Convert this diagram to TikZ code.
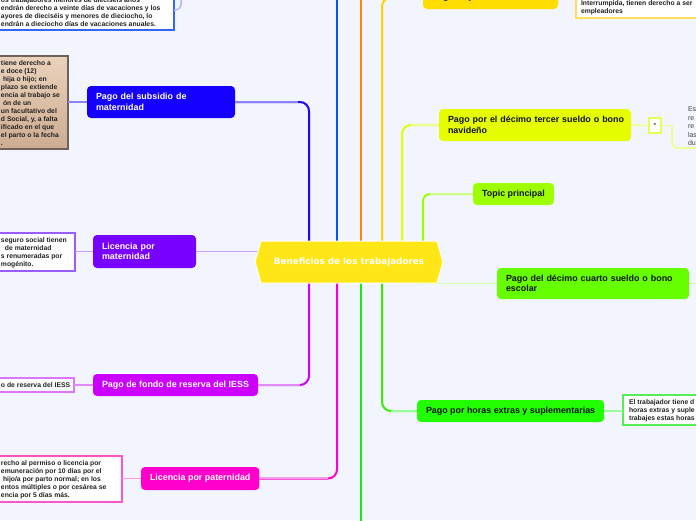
\documentclass[tikz,border=0pt]{standalone}
\usepackage{fontspec}
\setmainfont{Liberation Sans}
\newfontfamily\cenfont{DejaVu Sans}
\usetikzlibrary{calc}
\definecolor{bg}{HTML}{F2F5FD}
\definecolor{cenY}{HTML}{FFE617}
\definecolor{cBV}{HTML}{2200FF}
\definecolor{cBVl}{HTML}{8C80FF}
\definecolor{nBV}{HTML}{1500FF}
\definecolor{cBlue}{HTML}{0055FF}
\definecolor{cOr}{HTML}{FF8800}
\definecolor{cYe}{HTML}{FFD400}
\definecolor{nYe}{HTML}{FFDD00}
\definecolor{cYel}{HTML}{FFE680}
\definecolor{cLY}{HTML}{E0FF00}
\definecolor{nLY}{HTML}{E5FF00}
\definecolor{cLYl}{HTML}{EEFF88}
\definecolor{cGY}{HTML}{99FF00}
\definecolor{nGY}{HTML}{9DFF00}
\definecolor{cGYl}{HTML}{CCFF88}
\definecolor{nG1}{HTML}{66FF00}
\definecolor{cG1l}{HTML}{CCFFAA}
\definecolor{nG2}{HTML}{22FF00}
\definecolor{cG2}{HTML}{33EE00}
\definecolor{cG2l}{HTML}{99FF99}
\definecolor{cGr}{HTML}{11EE11}
\definecolor{nVi}{HTML}{7700FF}
\definecolor{cVil}{HTML}{C9A0FF}
\definecolor{nMa}{HTML}{CC00FF}
\definecolor{cMal}{HTML}{E08CFF}
\definecolor{nPi}{HTML}{FF00CC}
\definecolor{cPil}{HTML}{FF99E6}
\definecolor{cBll}{HTML}{AAB8FF}
\definecolor{bTL}{HTML}{3366FF}
\definecolor{bSB}{HTML}{6E6259}
\definecolor{sbTop}{HTML}{EBD2BC}
\definecolor{sbBot}{HTML}{CDAC91}
\definecolor{bVi}{HTML}{9A5CFF}
\definecolor{bMa}{HTML}{DD77FF}
\definecolor{bPi}{HTML}{FF55CC}
\definecolor{bG2}{HTML}{55EE55}
\definecolor{bYe}{HTML}{FFDD55}
\definecolor{bLY}{HTML}{E5FF55}
\definecolor{boxtxt}{HTML}{222222}
\definecolor{graytxt}{HTML}{444444}
\definecolor{darktxt}{HTML}{111111}
\tikzset{
  conn/.style={line width=2pt},
  lconn/.style={line width=1.5pt},
  topic/.style={rounded corners=4pt, anchor=north west, inner xsep=9pt, inner ysep=1pt,
    font=\fontsize{8.9}{10.5}\selectfont\bfseries},
  topicL/.style={topic, align=left},
  tbox/.style={anchor=north west, draw, line width=1.5pt},
  btext/.style={align=left, font=\fontsize{6.8}{8}\selectfont\bfseries, text=boxtxt},
}
\begin{document}
\begin{tikzpicture}[x=1pt,y=-1pt, every node/.style={inner sep=0pt, outer sep=0pt}]
\useasboundingbox (0,0) rectangle (696,520);
\clip (0,0) rectangle (696,520);
\fill[bg] (0,0) rectangle (696,520);

% helper coordinates
\coordinate (x309) at (309,0);
\coordinate (x337) at (337,0);
\coordinate (x361) at (361,0);
\coordinate (x382) at (382,0);
\coordinate (x402) at (402,0);
\coordinate (x423) at (423,0);
\coordinate (x417) at (417,0);
\coordinate (x258) at (258,0);
\coordinate (x672) at (672,0);
\coordinate (topB) at (337,-6);
\coordinate (topO) at (361,-6);
\coordinate (botG) at (361,526);
\coordinate (dcEnd) at (700,283.5);
\coordinate (rtEnd) at (700,148);
\coordinate (tlTop) at (181,-12);

% central node (shape drawn later)
\node[minimum width=188pt, minimum height=42pt] (cen) at (349,262) {};

% left text boxes
\node[tbox, draw=bTL, fill=white, minimum width=184pt, minimum height=40pt] (tlbox) at (-10,-10) {};
\node[btext, anchor=north west] (tltxt) at (1,-2.5) {os trabajadores menores de diecis\'eis a\~nos\\endr\'an derecho a veinte d\'ias de vacaciones y los\\ayores de diecis\'eis y menores de dieciocho, lo\\endr\'an a dieciocho d\'ias de vacaciones anuales.};

\node[tbox, draw=bSB, top color=sbTop, bottom color=sbBot, minimum width=78pt, minimum height=93pt] (subbox) at (-10,56) {};
\node[btext, anchor=north west] (subtxt) at (1,61) {tiene derecho a\\e doce (12)\\\hspace*{2pt}hija o hijo; en\\plazo se extiende\\encia al trabajo se\\\hspace*{2pt}\'on de un\\un facultativo del\\d Social, y, a falta\\ificado en el que\\el parto o la fecha\\.};

\node[tbox, draw=bVi, fill=white, minimum width=85pt, minimum height=38pt] (lmatbox) at (-10,233) {};
\node[btext, anchor=north west] (lmattxt) at (1,237.5) {seguro social tienen\\\hspace*{4pt}de maternidad\\s renumeradas por\\mog\'enito.};

\node[tbox, draw=bMa, fill=white, minimum width=84pt, minimum height=14pt] (fonbox) at (-10,378) {};
\node[btext, anchor=west] (fontxt) at (1,385.5) {o de reserva del IESS};

\node[tbox, draw=bPi, fill=white, minimum width=132pt, minimum height=46pt] (patbox) at (-10,456) {};
\node[btext, anchor=north west] (pattxt) at (1,460.5) {recho al permiso o licencia por\\emuneraci\'on por 10 d\'ias por el\\\hspace*{2pt}hijo/a por parto normal; en los\\entos m\'ultiples o por ces\'area se\\encia por 5 d\'ias m\'as.};

% right text boxes
\node[tbox, draw=bYe, fill=white, minimum width=130pt, minimum height=38pt] (jubbox) at (576,-20) {};
\node[btext, anchor=north west] (jubtxt) at (581,1) {Interrumpida, tienen derecho a ser\\empleadores};

\node[tbox, draw=bG2, fill=white, minimum width=80pt, minimum height=30pt] (horbox) at (623,395) {};
\node[btext, anchor=north west] (hortxt) at (629,400) {El trabajador tiene d\\horas extras y suple\\trabajes estas horas};

\node[draw=bLY, line width=1.5pt, fill=white, minimum width=12pt, minimum height=15pt,
  font=\bfseries\fontsize{8}{9}\selectfont] (dash) at (655,125.5) {-};
\node[anchor=north west, align=left, font=\fontsize{7}{8.5}\selectfont, text=graytxt] (rtxt) at (688,107) {Es\\re\\re\\las\\du};

% main topics
\node[topicL, fill=nBV, text=white, text width=130pt, minimum height=32pt] (sub) at (87,86) {Pago del subsidio de\\maternidad};
\node[topicL, fill=nVi, text=white, text width=85pt, minimum height=33pt] (lmat) at (93,235) {Licencia por\\maternidad};
\node[topic, fill=nMa, text=white, minimum width=165pt, minimum height=22pt] (fon) at (93,374) {Pago de fondo de reserva del IESS};
\node[topic, fill=nPi, text=white, minimum width=118pt, minimum height=23pt] (pat) at (141,467) {Licencia por paternidad};
\node[topic, fill=nYe, text=darktxt, minimum width=135pt, minimum height=23pt] (jub) at (423,-14) {Pago de jubilaci\'on Patronal};
\node[topicL, fill=nLY, text=darktxt, text width=174pt, minimum height=32pt] (dt) at (439,109) {\mbox{Pago por el d\'ecimo tercer sueldo o bono}\\navide\~no};
\node[topic, fill=nGY, text=darktxt, minimum width=81pt, minimum height=22pt] (topic) at (473,183) {Topic principal};
\node[topicL, fill=nG1, text=darktxt, text width=174pt, minimum height=31pt] (dc) at (497,268) {\mbox{Pago del d\'ecimo cuarto sueldo o bono}\\escolar};
\node[topic, fill=nG2, text=darktxt, minimum width=187pt, minimum height=22pt] (hor) at (417,400) {Pago por horas extras y suplementarias};

% connectors from the central topic
\draw[conn, cBV, rounded corners=9pt] (cen.north -| x309) |- (sub.east);
\draw[lconn, cBVl] (sub.east) -- ++(63,0);
\draw[conn, cBlue] (cen.north -| x337) -- (topB);
\draw[conn, cOr] (cen.north -| x361) -- (topO);
\draw[conn, cYe, rounded corners=9pt] (cen.north -| x382) |- (jub.west);
\draw[conn, cLY, rounded corners=9pt] (cen.north -| x402) |- (dt.west);
\draw[lconn, cLYl] (dt.west) -- ++(-28,0);
\draw[conn, cGY, rounded corners=7pt] (cen.north -| x423) |- (topic.west);
\draw[lconn, cGYl] (topic.west) -- ++(-43,0);
\draw[conn, nMa, rounded corners=9pt] (cen.south -| x309) |- (fon.east);
\draw[lconn, cMal] (fon.east) -- ++(42,0);
\draw[conn, nPi, rounded corners=9pt] (cen.south -| x337) |- (pat.east);
\draw[lconn, cPil] (pat.east) -- ++(69,0);
\draw[conn, cGr] (cen.south -| x361) -- (botG);
\draw[conn, cG2, rounded corners=9pt] (cen.south -| x382) |- (hor.west);
\draw[lconn, cG2l] (hor.west) -- ++(-26,0);
\draw[lconn, cG1l] (dc.west -| x417) -- (dc.west);
\draw[lconn, cVil] (lmat.east) -- (lmat.east -| x258);

% connectors to details
\draw[lconn, cBll, rounded corners=6pt] (tlTop) |- (tlbox.east);
\draw[lconn, cBVl] (sub.west) -- (sub.west -| subbox.east);
\draw[lconn, cVil] (lmat.west) -- (lmat.west -| lmatbox.east);
\draw[lconn, cMal] (fon.west) -- (fon.west -| fonbox.east);
\draw[lconn, cPil] (pat.west) -- (pat.west -| patbox.east);
\draw[lconn, cG2l] (hor.east) -- (hor.east -| horbox.west);
\draw[lconn, cYel] (jub.east) -- (jub.east -| jubbox.west);
\draw[lconn, cLYl] (dt.east) -- (dash.west);
\draw[lconn, cLYl] (dash.east) -- (dash.east -| x672) -- ++(0,12);
\draw[lconn, cLYl, rounded corners=5pt] (dash.east -| x672) |- (rtEnd);
\draw[lconn, cG1l] (dc.east) -- (dcEnd);

% central shape and label
\filldraw[fill=cenY, draw=white, line width=1pt] (cen.west) -- ($(cen.north west)+(6,0)$) -- ($(cen.north east)+(-6,0)$) -- (cen.east) -- ($(cen.south east)+(-6,0)$) -- ($(cen.south west)+(6,0)$) -- cycle;
\node[font=\cenfont\bfseries\fontsize{8.8}{10}\selectfont, text=white] (centxt) at (cen.center) {Beneficios de los trabajadores};
\end{tikzpicture}
\end{document}
